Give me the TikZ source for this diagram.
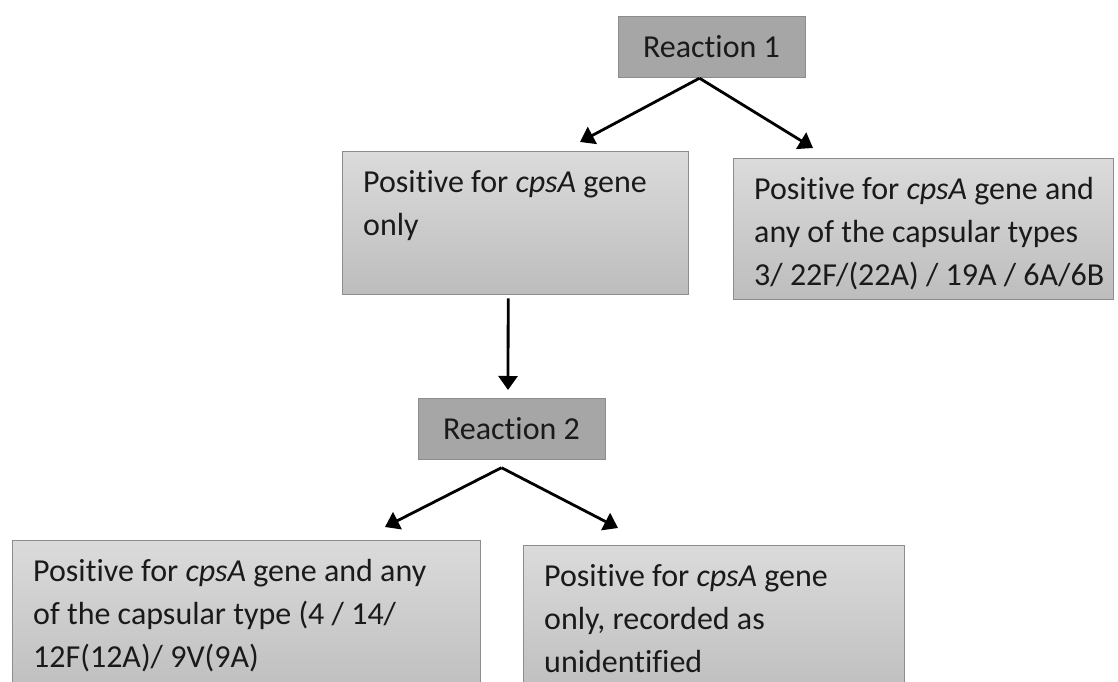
\documentclass[tikz,border=0pt]{standalone}
\usepackage{fontspec}
\setmainfont{Carlito}[Ligatures=NoCommon]
\usepackage{xcolor}
\definecolor{rxgray}{HTML}{A6A6A6}
\definecolor{boxtop}{HTML}{DBDBDB}
\definecolor{boxbot}{HTML}{BDBDBD}
\definecolor{boxline}{HTML}{8C8C8C}
\definecolor{txtgray}{HTML}{1A1A1A}
\usetikzlibrary{arrows.meta,positioning,calc}

\begin{document}
\begin{tikzpicture}[>={Triangle[length=14pt,width=19pt]},x=1pt,y=1pt]
\tikzset{
 reactbox/.style={draw=boxline,fill=rxgray,minimum width=187pt,minimum height=61pt,inner sep=0pt,text=txtgray,font=\fontsize{32pt}{43pt}\selectfont},
 resultbox/.style n args={2}{draw=boxline,top color=boxtop,bottom color=boxbot,anchor=north west,inner xsep=0pt,inner ysep=0pt,text width=#1,text height=41pt,text depth=#2-41pt,align=left,execute at begin node={\leftskip=21pt\spaceskip=0pt\xspaceskip=0pt\relax},text=txtgray,font=\fontsize{32pt}{43pt}\selectfont},
 arrow/.style={->,line width=2.8pt}
}
\useasboundingbox (0,0) rectangle (1118,-682);
\clip (0,0) rectangle (1118,-682);
\node[reactbox] (r1) at (711.5,-46.5) {Reaction 1};
\node[resultbox={346pt}{143pt}] (p1) at (342,-151) {Positive for \textit{cpsA} gene\\only};
\node[resultbox={380pt}{141pt}] (p2) at (733,-158) {Positive for \textit{cpsA} gene and\\any of the capsular types\\3/ 22F/(22A) / 19A / 6A/6B};
\node[reactbox] (r2) at (511.5,-429) {Reaction 2};
\node[resultbox={468pt}{160pt}] (p3) at (12,-540) {Positive for \textit{cpsA} gene and any\\of the capsular type (4 / 14/\\12F(12A)/ 9V(9A)};
\node[resultbox={381pt}{155pt}] (p4) at (523,-545) {Positive for \textit{cpsA} gene\\only, recorded as\\unidentified};
\coordinate (t1) at (580,-142);
\coordinate (t2) at (813,-148);
\coordinate (t3) at (508,-390);
\coordinate (t4) at (385,-527);
\coordinate (t5) at (618,-528);
\draw[arrow] ([xshift=-12pt,yshift=-1pt]r1.south) -- (t1);
\draw[arrow] ([xshift=-12pt,yshift=-1pt]r1.south) -- (t2);
\draw[arrow] ([xshift=-7pt,yshift=-4pt]p1.south) -- (t3);
\draw[arrow] ([xshift=-10pt,yshift=-8pt]r2.south) -- (t4);
\draw[arrow] ([xshift=-10pt,yshift=-8pt]r2.south) -- (t5);
\end{tikzpicture}
\end{document}
